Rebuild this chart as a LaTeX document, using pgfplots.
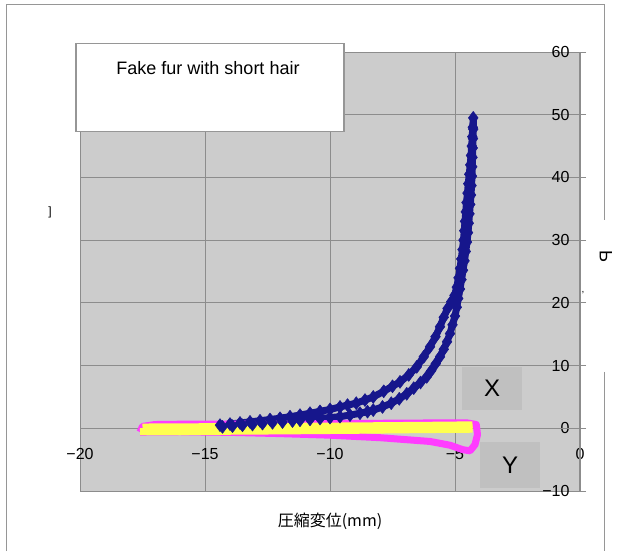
\documentclass[border=0pt]{standalone}
\usepackage{pgfplots}
\pgfplotsset{compat=1.18}
\usepackage{fontspec}
\setmainfont{Liberation Sans}
\newfontfamily\cjk{Noto Sans CJK JP}
\definecolor{plotgray}{RGB}{204,204,204}
\definecolor{gridgray}{RGB}{140,140,140}
\definecolor{boxgray}{RGB}{192,192,192}
\definecolor{framegray}{RGB}{150,150,150}
\definecolor{navy}{RGB}{22,22,140}
\definecolor{mag}{RGB}{255,60,255}
\definecolor{yel}{RGB}{255,255,80}
\begin{document}
\begin{tikzpicture}
\useasboundingbox (0,0) rectangle (617pt,551pt);
\fill[white] (0,0) rectangle (617pt,551pt);
\draw[framegray, line width=1pt] (6pt,0) -- (6pt,546pt) -- (604pt,546pt) -- (604pt,331pt);
\draw[framegray, line width=1pt] (604pt,179pt) -- (604pt,0);
\begin{axis}[
  at={(80pt,60pt)}, anchor=south west,
  scale only axis, width=500pt, height=439pt,
  xmin=-20, xmax=0, ymin=-10, ymax=60,
  axis line style={draw=none},
  axis background/.style={fill=plotgray},
  xtick={-20,-15,-10,-5,0},
  xticklabels={−20,−15,−10,−5,0},
  ytick={-10,0,10,20,30,40,50,60},
  yticklabels={−10,0,10,20,30,40,50,60},
  grid=major,
  grid style={gridgray, line width=0.8pt},
  major x tick style={draw=none},
  ytick pos=right, yticklabel pos=right,
  tick align=center,
  major tick length=12pt,
  major y tick style={gridgray, line width=0.8pt},
  xticklabel style={font=\fontsize{16}{18}\selectfont, yshift=52pt},
  yticklabel style={font=\fontsize{16}{18}\selectfont, anchor=east, xshift=-13pt},
  /pgf/number format/assume math mode=true,
  clip=false,
]
\draw[gridgray, line width=1.2pt] (axis cs:0,-10) -- (axis cs:0,60);
\draw[gridgray, line width=1.2pt] (axis cs:-20,0) -- (axis cs:0,0);
% blue loop, left ends (hidden under the yellow band)
\addplot[navy, line width=7pt, line join=round] coordinates {
(-17.5,-0.3)(-17.1,-0.28)(-16.7,-0.25)(-16.3,-0.2)(-15.9,-0.15)(-15.5,-0.08)(-15.1,0.0)(-14.7,0.1)(-14.3,0.22)
};
\addplot[navy, line width=7pt, line join=round] coordinates {
(-14.4,0.5)(-14.8,0.35)(-15.2,0.2)(-15.6,0.05)(-16.0,-0.05)(-16.4,-0.15)(-16.8,-0.22)(-17.2,-0.28)(-17.5,-0.3)
};
% blue loop, main part
\addplot[navy, line width=7pt, line join=round, mark=diamond*, mark size=6.5pt, mark options={fill=navy, draw=navy, line width=0.5pt}] coordinates {
(-14.3,0.22)(-13.9,0.35)(-13.5,0.48)(-13.1,0.6)(-12.7,0.74)(-12.3,0.88)(-11.9,1.0)(-11.5,1.15)(-11.2,1.28)(-10.8,1.42)(-10.4,1.56)(-10.0,1.7)(-9.6,1.85)(-9.2,2.1)(-8.8,2.4)(-8.5,2.65)(-8.27,2.9)(-7.9,3.4)(-7.55,4.0)(-7.23,4.7)(-6.93,5.5)(-6.65,6.4)(-6.38,7.3)(-6.13,8.2)(-5.95,9.2)(-5.77,10.3)(-5.6,11.4)(-5.45,12.6)(-5.32,13.8)(-5.2,15.1)(-5.1,16.5)(-5.0,17.9)(-4.93,19.3)(-4.87,20.7)(-4.8,22.2)(-4.74,23.7)(-4.68,25.2)(-4.62,26.7)(-4.57,28.2)(-4.52,29.7)(-4.48,31.2)(-4.45,32.7)(-4.42,34.2)(-4.39,35.7)(-4.36,37.2)(-4.34,38.7)(-4.32,40.2)(-4.31,41.7)(-4.3,43.2)(-4.29,44.7)(-4.28,46.2)(-4.27,47.7)(-4.27,49.5)
(-4.29,48)(-4.31,46.5)(-4.33,45)(-4.36,43.5)(-4.39,42)(-4.43,40.5)(-4.47,39)(-4.5,37.5)(-4.54,36)(-4.57,34.5)(-4.6,33)(-4.63,31.5)(-4.66,30)(-4.7,28.5)(-4.75,27)(-4.8,25.5)(-4.86,24)(-4.93,22.5)(-5.02,21.2)(-5.15,20.2)(-5.3,19.1)(-5.45,17.7)(-5.6,16.2)(-5.78,14.6)(-6.0,13.0)(-6.25,11.4)(-6.53,9.8)(-6.85,8.5)(-7.2,7.4)(-7.5,6.7)(-7.85,5.9)(-8.27,5.0)(-8.6,4.5)(-8.95,4.0)(-9.3,3.7)(-9.6,3.4)(-10.0,3.0)(-10.4,2.7)(-10.8,2.4)(-11.2,2.1)(-11.6,1.85)(-12.0,1.6)(-12.4,1.4)(-12.8,1.2)(-13.2,1.02)(-13.6,0.85)(-14.0,0.68)(-14.4,0.5)
};
% magenta loop
\addplot[mag, line width=7pt, line join=round] coordinates {
(-17.6,-0.6)(-17.5,0.3)(-17,0.6)(-16,0.65)(-14,0.65)(-12,0.7)(-10,0.75)(-8,0.8)(-6,0.85)(-4.5,0.85)(-4.15,0.6)
(-4.1,-1.0)(-4.2,-2.6)(-4.4,-3.6)(-4.7,-3.4)(-5.2,-2.7)(-6,-2.1)(-7,-1.8)(-8,-1.5)(-10,-1.1)(-12,-0.85)(-14,-0.65)(-16,-0.55)(-17.6,-0.6)
};
% yellow band
\addplot[yel, line width=7pt] coordinates {
(-17.5,0.2)(-15,0.25)(-12,0.3)(-9,0.38)(-6,0.48)(-4.3,0.55)
};
\addplot[yel, line width=7pt] coordinates {
(-17.6,-0.55)(-15,-0.5)(-12,-0.42)(-9,-0.32)(-6,-0.2)(-4.3,-0.15)
};
\end{axis}
% text box
\node[draw=framegray, line width=1.5pt, fill=white, minimum width=268pt, minimum height=88pt, anchor=north west, inner sep=0pt] at (75pt,508pt) {};
\node[font=\fontsize{18}{20}\selectfont] at (208pt,483pt) {Fake fur with short hair};
% X and Y labels
\node[fill=boxgray, minimum width=60pt, minimum height=43pt, inner sep=0pt, font=\fontsize{24}{26}\selectfont] at (492pt,162.5pt) {X};
\node[fill=boxgray, minimum width=60pt, minimum height=46pt, inner sep=0pt, font=\fontsize{24}{26}\selectfont] at (510pt,86pt) {Y};
% x label
\node[font=\cjk\fontsize{16}{18}\selectfont] at (330pt,30pt) {圧縮変位(mm)};
% fragments
\node[font=\fontsize{12}{14}\selectfont] at (50pt,339pt) {]};
\node[font=\fontsize{18}{20}\selectfont, xscale=-1, rotate=-90, inner sep=0pt] at (606pt,294pt) {P};
\node[font=\fontsize{10}{12}\selectfont] at (583pt,258pt) {,};
\end{tikzpicture}
\end{document}
